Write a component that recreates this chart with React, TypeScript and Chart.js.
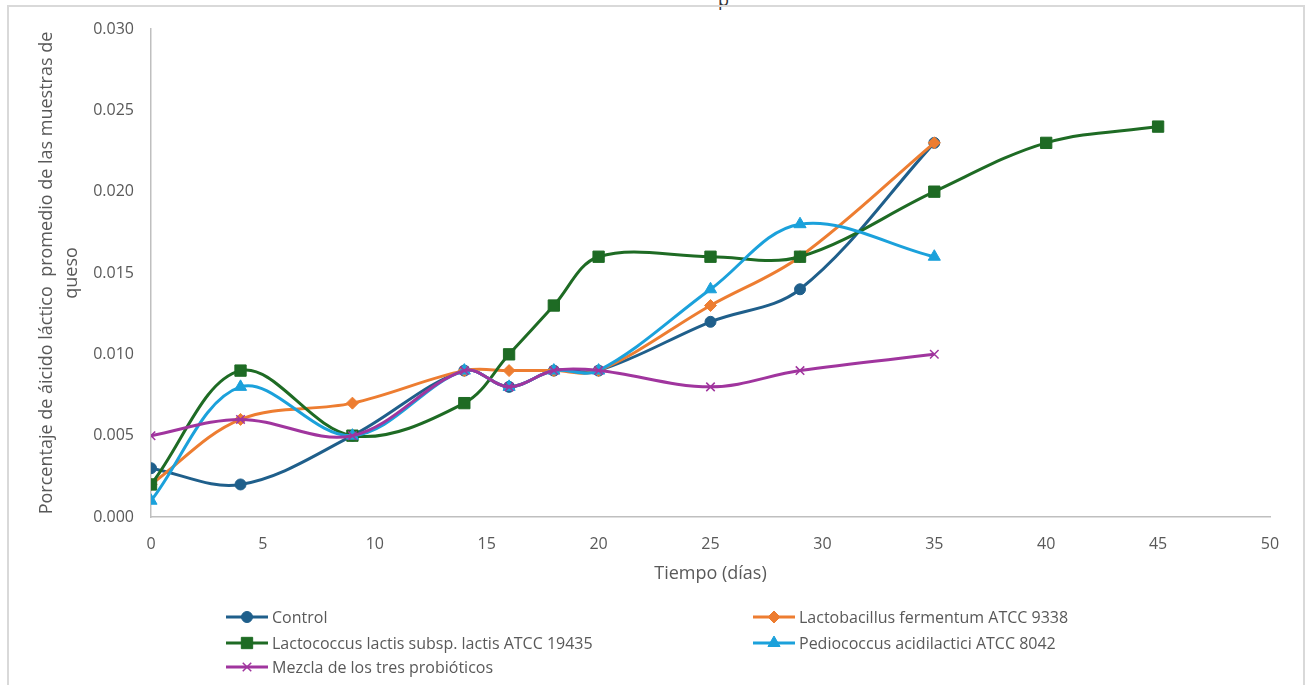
import React, { useEffect, useRef } from 'react';
import { Chart, registerables } from 'chart.js';
import { drawPoint } from 'chart.js/helpers';

Chart.register(...registerables);

// ---- Data ----
const days = [0, 4, 9, 14, 16, 18, 20, 25, 29, 35];
const lactococcusDays = [0, 4, 9, 14, 16, 18, 20, 25, 29, 35, 40, 45];

const control = [0.003, 0.002, 0.005, 0.009, 0.008, 0.009, 0.009, 0.012, 0.014, 0.023];
const lactobacillus = [0.002, 0.006, 0.007, 0.009, 0.009, 0.009, 0.009, 0.013, 0.016, 0.023];
const lactococcus = [0.002, 0.009, 0.005, 0.007, 0.010, 0.013, 0.016, 0.016, 0.016, 0.020, 0.023, 0.024];
const pediococcus = [0.001, 0.008, 0.005, 0.009, 0.008, 0.009, 0.009, 0.014, 0.018, 0.016];
const mezcla = [0.005, 0.006, 0.005, 0.009, 0.008, 0.009, 0.009, 0.008, 0.009, 0.010];

const seriesNames = [
  'Control',
  'Lactobacillus fermentum ATCC 9338',
  'Lactococcus lactis subsp. lactis ATCC 19435',
  'Pediococcus acidilactici ATCC 8042',
  'Mezcla de los tres probióticos',
];

const xTitle = 'Tiempo (días)';
const yTitle = ['Porcentaje de áicido láctico  promedio de las muestras de', 'queso'];

const FONT = '"Open Sans", "Noto Sans", sans-serif';
const TEXT = '#595959';

const toPoints = (xs: number[], ys: number[]) => xs.map((x, i) => ({ x, y: ys[i] }));

const legendPlugin = {
  id: 'gridLegend',
  afterDraw(chart: any) {
    const ctx = chart.ctx as CanvasRenderingContext2D;
    const cols = [226, 753];
    const rows = [617, 643, 667];
    chart.data.datasets.forEach((ds: any, i: number) => {
      const x = cols[i % 2];
      const y = rows[Math.floor(i / 2)];
      ctx.save();
      ctx.strokeStyle = ds.borderColor;
      ctx.lineWidth = 3;
      ctx.beginPath();
      ctx.moveTo(x, y);
      ctx.lineTo(x + 42, y);
      ctx.stroke();
      ctx.fillStyle = ds.pointBackgroundColor;
      ctx.strokeStyle = ds.pointBorderColor;
      ctx.lineWidth = ds.pointBorderWidth;
      drawPoint(ctx, { pointStyle: ds.pointStyle, radius: ds.pointRadius, rotation: 0, borderWidth: ds.pointBorderWidth } as any, x + 21, y);
      ctx.fillStyle = TEXT;
      ctx.font = '16px ' + FONT;
      ctx.textBaseline = 'middle';
      ctx.textAlign = 'left';
      ctx.fillText(ds.label, x + 46, y + 1);
      ctx.restore();
    });
  },
};

export default function App() {
  const ref = useRef<HTMLCanvasElement | null>(null);

  useEffect(() => {
    if (!ref.current) return;
    const mk = (label: string, data: any[], color: string, style: string, radius: number, bw: number, order: number) => ({
      label,
      data,
      borderColor: color,
      backgroundColor: color,
      pointBackgroundColor: color,
      pointBorderColor: color,
      pointStyle: style,
      pointRadius: radius,
      pointHoverRadius: radius,
      pointBorderWidth: bw,
      borderWidth: 3,
      tension: 0.35,
      fill: false,
      order,
    });
    const chart = new Chart(ref.current, {
      type: 'line',
      data: {
        datasets: [
          mk(seriesNames[0], toPoints(days, control), '#1F5F8B', 'circle', 5.5, 1, 4),
          mk(seriesNames[1], toPoints(days, lactobacillus), '#ED7D31', 'rectRot', 6, 1, 3),
          mk(seriesNames[2], toPoints(lactococcusDays, lactococcus), '#1E6B24', 'rect', 8, 1, 2),
          mk(seriesNames[3], toPoints(days, pediococcus), '#1BA1DB', 'triangle', 7, 1, 1),
          mk(seriesNames[4], toPoints(days, mezcla), '#A0359E', 'crossRot', 6, 1.5, 0),
        ] as any,
      },
      options: {
        animation: false,
        responsive: false,
        maintainAspectRatio: false,
        layout: { padding: { left: 30, right: 36, top: 29, bottom: 100 } },
        plugins: {
          legend: { display: false },
          tooltip: { enabled: false },
          title: { display: false },
        },
        scales: {
          x: {
            type: 'linear',
            min: 0,
            max: 50,
            grid: { display: false, drawTicks: false },
            border: { display: true, color: '#BFBFBF', width: 1.5 },
            ticks: { stepSize: 5, color: TEXT, font: { family: FONT, size: 16 }, padding: 18, maxRotation: 0 },
            title: { display: true, text: xTitle, color: TEXT, font: { family: FONT, size: 18, lineHeight: 1.2 }, padding: { top: 0, bottom: 0 } },
            afterFit: (s: any) => { s.height = 68; },
          },
          y: {
            min: 0,
            max: 0.03,
            grid: { display: false, drawTicks: false },
            border: { display: true, color: '#BFBFBF', width: 1.5 },
            ticks: { stepSize: 0.005, color: TEXT, font: { family: FONT, size: 16 }, padding: 17, callback: (v: any) => Number(v).toFixed(3) },
            title: { display: true, text: yTitle, color: TEXT, font: { family: FONT, size: 18, lineHeight: 1.4 }, padding: { top: 4, bottom: 0 } },
            afterFit: (s: any) => { s.width = 121; },
          },
        },
      } as any,
      plugins: [legendPlugin],
    });
    return () => chart.destroy();
  }, []);

  return (
    <div style={{ position: 'absolute', left: 0, top: 0, width: 1306, height: 685, overflow: 'hidden', background: '#fff' }}>
      <div style={{ position: 'absolute', left: 718, top: -13, fontFamily: FONT, fontSize: 18, color: '#333' }}>p</div>
      <div style={{ position: 'absolute', left: 7, top: 5, width: 1294, height: 720, border: '2px solid #D9D9D9', borderBottom: 'none' }} />
      <canvas ref={ref} width={1306} height={685} style={{ position: 'absolute', left: 0, top: 0, width: 1306, height: 685 }} />
    </div>
  );
}
